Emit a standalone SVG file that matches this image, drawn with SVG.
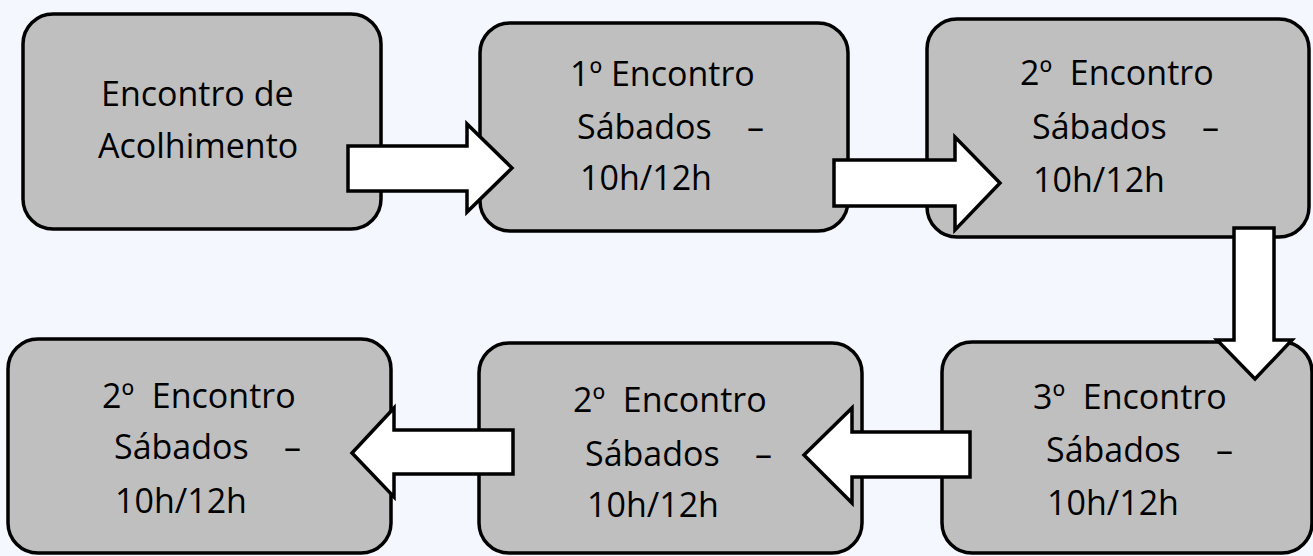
<svg xmlns="http://www.w3.org/2000/svg" width="1313" height="556" viewBox="0 0 1313 556">
<style>
.box{fill:#bfbfbf;stroke:#000;stroke-width:3.5}
.arr{fill:#fff;stroke:#000;stroke-width:3.5;stroke-linejoin:miter}
.t{font-family:"Open Sans","Liberation Sans",sans-serif;font-size:34px;fill:#000}
</style>
<rect width="1313" height="556" fill="#f4f7fe"/>
<g id="n1"><rect class="box" x="23" y="14" width="358" height="215" rx="30"/>
<text class="t" x="101" y="106">Encontro de</text><text class="t" x="98" y="158">Acolhimento</text></g>
<g id="n2"><rect class="box" x="480" y="23" width="368" height="208" rx="30"/>
<text class="t" x="570" y="86">1º Encontro</text><text class="t" x="577" y="139" xml:space="preserve">Sábados    –</text><text class="t" x="580" y="190">10h/12h</text></g>
<g id="n3"><rect class="box" x="927" y="19" width="382" height="218" rx="30"/>
<text class="t" x="1020" y="85" xml:space="preserve">2º  Encontro</text><text class="t" x="1032" y="139" xml:space="preserve">Sábados    –</text><text class="t" x="1033" y="192">10h/12h</text></g>
<g id="n4"><rect class="box" x="942" y="342" width="370" height="211" rx="30"/>
<text class="t" x="1033" y="409" xml:space="preserve">3º  Encontro</text><text class="t" x="1046" y="462" xml:space="preserve">Sábados    –</text><text class="t" x="1047" y="515">10h/12h</text></g>
<g id="n5"><rect class="box" x="479" y="343" width="383" height="210" rx="30"/>
<text class="t" x="573" y="412" xml:space="preserve">2º  Encontro</text><text class="t" x="585" y="466" xml:space="preserve">Sábados    –</text><text class="t" x="587" y="517">10h/12h</text></g>
<g id="n6"><rect class="box" x="8" y="339" width="383" height="214" rx="30"/>
<text class="t" x="102" y="408" xml:space="preserve">2º  Encontro</text><text class="t" x="114" y="459" xml:space="preserve">Sábados    –</text><text class="t" x="115" y="513">10h/12h</text></g>
<g id="connectors">
<polygon class="arr" points="348,146 467,146 467,124 512,168 467,212 467,191 348,191"/>
<polygon class="arr" points="834,160 955,160 955,137 1000,183 955,230 955,206 834,206"/>
<polygon class="arr" points="1234,228 1274,228 1274,340 1292,340 1255,379 1217,340 1234,340"/>
<polygon class="arr" points="970,432 852,432 852,408 804,455 852,503 852,477 970,477"/>
<polygon class="arr" points="513,430 394,430 394,408 352,453 394,497 394,474 513,474"/>
</g>
</svg>
